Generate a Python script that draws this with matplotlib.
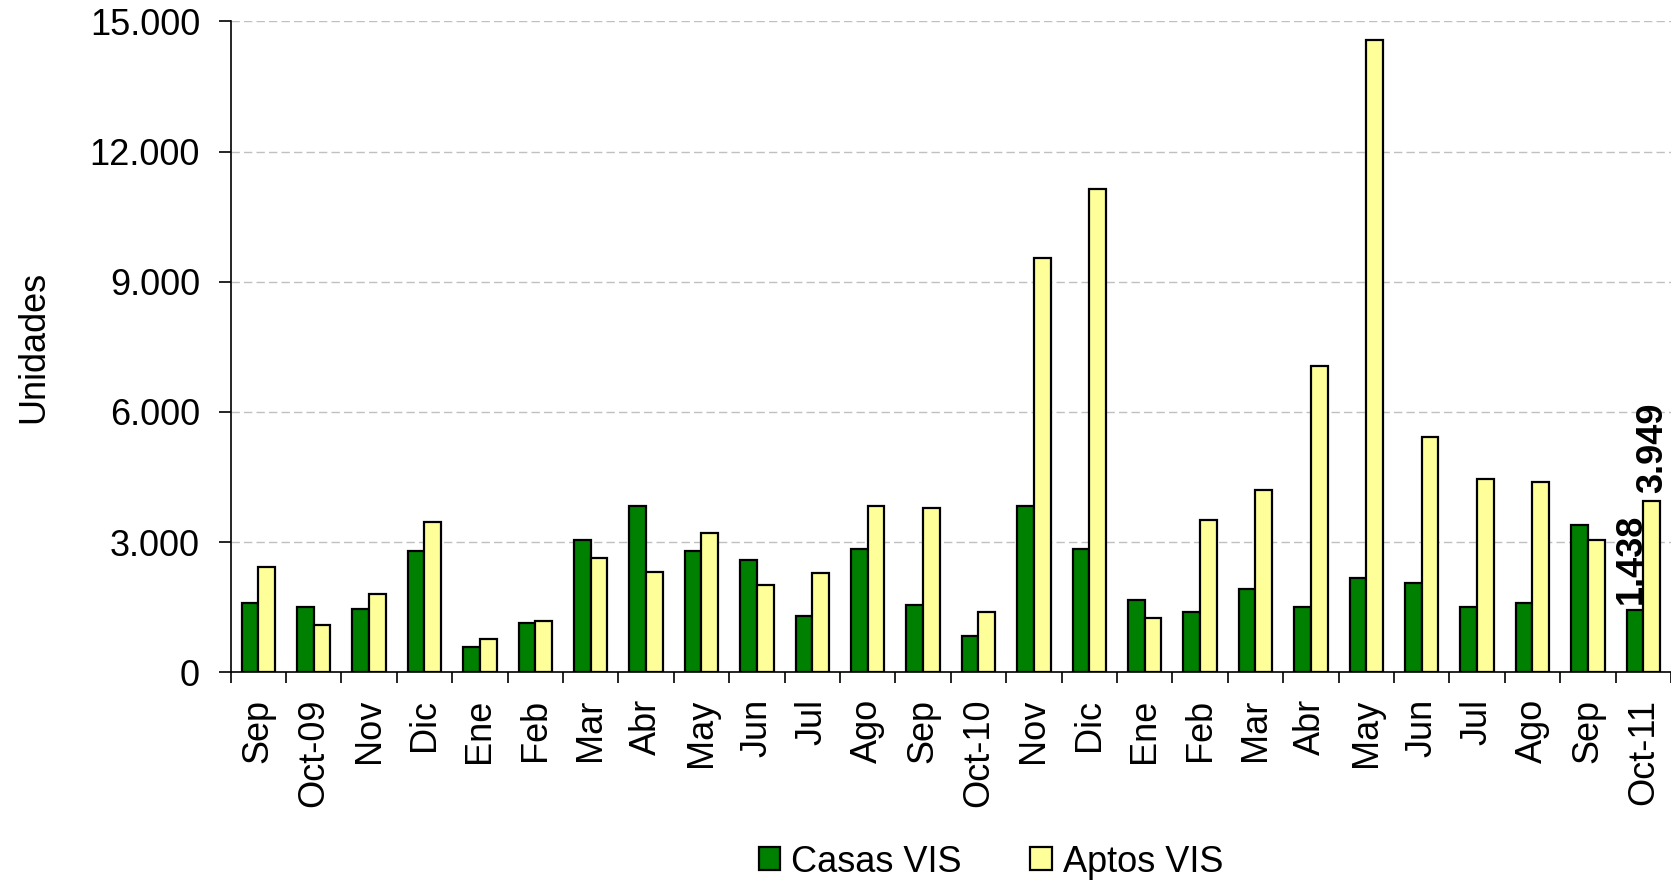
import matplotlib
matplotlib.use("Agg")
import matplotlib.pyplot as plt
from matplotlib.ticker import FuncFormatter, FixedLocator
from matplotlib.patches import Patch
import numpy as np

plt.rcParams['font.family'] = ['Liberation Sans', 'DejaVu Sans']

categories = ["Sep", "Oct-09", "Nov", "Dic", "Ene", "Feb", "Mar", "Abr", "May", "Jun",
              "Jul", "Ago", "Sep", "Oct-10", "Nov", "Dic", "Ene", "Feb", "Mar", "Abr",
              "May", "Jun", "Jul", "Ago", "Sep", "Oct-11"]
casas_vis = [1600, 1500, 1454, 2792, 577, 1138, 3054, 3831, 2792, 2592,
             1300, 2846, 1554, 838, 3838, 2846, 1669, 1400, 1915, 1500,
             2169, 2069, 1500, 1600, 3408, 1438]
aptos_vis = [2423, 1085, 1808, 3462, 777, 1192, 2631, 2323, 3208, 2015,
             2285, 3838, 3785, 1400, 9550, 11146, 1246, 3515, 4192, 7070,
             14558, 5431, 4454, 4392, 3054, 3949]
series_names = ["Casas VIS", "Aptos VIS"]
y_ticks = [0, 3000, 6000, 9000, 12000, 15000]

green = "#008000"
yellow = "#FFFF99"
FS = 26

fig = plt.figure(figsize=(16.71, 8.86), dpi=100)
ax = fig.add_axes([0.138, 0.241, 0.862, 0.735])

x = np.arange(len(categories))
w = 0.3
ax.bar(x - w, casas_vis, width=w, align='edge', color=green, edgecolor='black', linewidth=1.6, zorder=3)
ax.bar(x, aptos_vis, width=w, align='edge', color=yellow, edgecolor='black', linewidth=1.6, zorder=3)

ax.set_xlim(-0.5, len(categories) - 0.5)
ax.set_ylim(0, 15000)
ax.set_yticks(y_ticks)
ax.yaxis.set_major_formatter(FuncFormatter(lambda v, p: f"{int(v):,}".replace(",", ".")))
ax.yaxis.grid(True, linestyle=(0, (6, 3)), color='#C0C0C0', linewidth=1.0, zorder=0)
ax.set_axisbelow(True)

ax.set_xticks(x)
ax.set_xticklabels(categories, rotation=90, va='top', ha='center')
ax.xaxis.set_minor_locator(FixedLocator(np.arange(-0.5, len(categories), 1.0)))
ax.tick_params(axis='x', which='major', length=0, pad=19, labelsize=FS)
ax.tick_params(axis='x', which='minor', length=8, width=1.2, direction='out')
ax.tick_params(axis='y', which='major', length=9, width=1.2, pad=13, labelsize=FS)

for s in ['top', 'right']:
    ax.spines[s].set_visible(False)
ax.spines['left'].set_linewidth(1.2)
ax.spines['bottom'].set_linewidth(1.2)

ax.set_ylabel("Unidades", fontsize=FS, labelpad=28)

# Value labels for the last month
last = len(categories) - 1
ax.annotate(f"{casas_vis[last]:,}".replace(",", "."), xy=(last - w / 2 - 0.06, casas_vis[last]),
            xytext=(0, 4), textcoords='offset points', rotation=90, ha='center', va='bottom',
            fontsize=FS, fontweight='bold')
ax.annotate(f"{aptos_vis[last]:,}".replace(",", "."), xy=(last + w / 2 + 0.02, aptos_vis[last]),
            xytext=(0, 6), textcoords='offset points', rotation=90, ha='center', va='bottom',
            fontsize=FS, fontweight='bold')

handles = [Patch(facecolor=green, edgecolor='black', linewidth=1.6),
           Patch(facecolor=yellow, edgecolor='black', linewidth=1.6)]
fig.legend(handles, series_names, loc='center', bbox_to_anchor=(0.593, 0.027), ncol=2,
           frameon=False, fontsize=FS, handlelength=0.6, handleheight=0.6,
           handletextpad=0.3, columnspacing=1.9)

fig.savefig("out.png", dpi=100)
